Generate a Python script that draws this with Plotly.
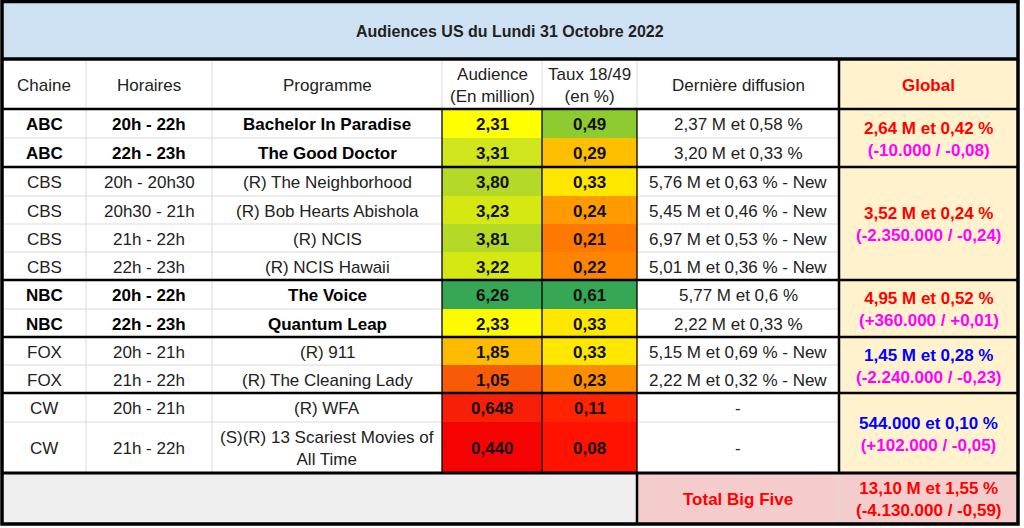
import plotly.graph_objects as go

# ---------------- data ----------------
title = "Audiences US du Lundi 31 Octobre 2022"
headers = ["Chaine", "Horaires", "Programme", "Audience<br>(En million)",
           "Taux 18/49<br>(en %)", "Dernière diffusion", "Global"]
channels = ["ABC", "ABC", "CBS", "CBS", "CBS", "CBS", "NBC", "NBC", "FOX", "FOX", "CW", "CW"]
horaires = ["20h - 22h", "22h - 23h", "20h - 20h30", "20h30 - 21h", "21h - 22h", "22h - 23h",
            "20h - 22h", "22h - 23h", "20h - 21h", "21h - 22h", "20h - 21h", "21h - 22h"]
programmes = ["Bachelor In Paradise", "The Good Doctor", "(R) The Neighborhood",
              "(R) Bob Hearts Abishola", "(R) NCIS", "(R) NCIS Hawaii", "The Voice",
              "Quantum Leap", "(R) 911", "(R) The Cleaning Lady", "(R) WFA",
              "(S)(R) 13 Scariest Movies of<br>All Time"]
audience = ["2,31", "3,31", "3,80", "3,23", "3,81", "3,22", "6,26", "2,33", "1,85", "1,05", "0,648", "0,440"]
taux = ["0,49", "0,29", "0,33", "0,24", "0,21", "0,22", "0,61", "0,33", "0,33", "0,23", "0,11", "0,08"]
derniere = ["2,37 M et 0,58 %", "3,20 M et 0,33 %", "5,76 M et 0,63 % - New",
            "5,45 M et 0,46 % - New", "6,97 M et 0,53 % - New", "5,01 M et 0,36 % - New",
            "5,77 M et 0,6 %", "2,22 M et 0,33 %", "5,15 M et 0,69 % - New",
            "2,22 M et 0,32 % - New", "-", "-"]
bold_rows = [True, True, False, False, False, False, True, True, False, False, False, False]
global_main = ["2,64 M et 0,42 %", "3,52 M et 0,24 %", "4,95 M et 0,52 %",
               "1,45 M et 0,28 %", "544.000 et 0,10 %"]
global_delta = ["(-10.000 / -0,08)", "(-2.350.000 / -0,24)", "(+360.000 / +0,01)",
                "(-2.240.000 / -0,23)", "(+102.000 / -0,05)"]
total_label = "Total Big Five"
total_main = "13,10 M et 1,55 %"
total_delta = "(-4.130.000 / -0,59)"

# ---------------- styles ----------------
aud_colors = ["#FFFF00", "#D0E51C", "#B4D927", "#D5E812", "#B4D927", "#D5E812",
              "#36A855", "#FEFB00", "#FDBB00", "#F95A08", "#F81F08", "#F70202"]
taux_colors = ["#8ECB2F", "#FDBF00", "#FFE700", "#FF9B00", "#FF7800", "#FF8400",
               "#36A855", "#FFE700", "#FFE700", "#FF8D00", "#FF2300", "#FF1200"]
global_colors = ["#FF0000", "#FF0000", "#FF0000", "#0000FF", "#0000FF"]
delta_color = "#FF00FF"

W, H = 1024, 528
col_x = [2, 86, 212, 442, 542, 637, 839, 1018]
y_top = 1.5
y_title_bot = 59
y_header_bot = 109
row_h = [29, 29, 29, 28, 28, 28, 29, 28, 28, 28, 29, 51]
total_h = 51
FONT = "Liberation Sans, Arial, sans-serif"
FS = 17
LIGHT = "#DADADA"

row_top = [y_header_bot]
for h in row_h:
    row_top.append(row_top[-1] + h)
y_total_bot = row_top[-1] + total_h

# groups of consecutive channels
groups = []
start = 0
for i in range(1, len(channels) + 1):
    if i == len(channels) or channels[i] != channels[start]:
        groups.append((start, i))
        start = i

shapes = []
ann = []


def rect(x0, x1, y0, y1, color):
    shapes.append(dict(type="rect", xref="x", yref="y", x0=x0, x1=x1, y0=y0, y1=y1,
                       fillcolor=color, line=dict(width=0)))


def line(x0, y0, x1, y1, color, w):
    shapes.append(dict(type="line", xref="x", yref="y", x0=x0, x1=x1, y0=y0, y1=y1,
                       line=dict(color=color, width=w)))


def text(x, y, s, bold=False, color="#222222", size=FS):
    if bold:
        s = "<b>" + s + "</b>"
    ann.append(dict(x=x, y=y, xref="x", yref="y", text=s, showarrow=False,
                    xanchor="center", yanchor="middle",
                    font=dict(family=FONT, size=size, color=color)))


# backgrounds
rect(col_x[0], col_x[-1], y_top, y_title_bot, "#CFE2F3")
rect(col_x[0], col_x[-1], y_title_bot, y_total_bot, "#FFFFFF")
rect(col_x[6], col_x[7], y_title_bot, row_top[-1], "#FFF2CC")
for i in range(len(channels)):
    rect(col_x[3], col_x[4], row_top[i], row_top[i + 1], aud_colors[i])
    rect(col_x[4], col_x[5], row_top[i], row_top[i + 1], taux_colors[i])
rect(col_x[0], col_x[5], row_top[-1], y_total_bot, "#EFEFEF")
rect(col_x[5], col_x[7], row_top[-1], y_total_bot, "#F4CCCC")

# light grid lines
for k in range(1, 6):
    line(col_x[k], y_title_bot, col_x[k], y_header_bot, LIGHT, 1)
for k in (1, 2):
    line(col_x[k], y_header_bot, col_x[k], row_top[-1], LIGHT, 1)
line(col_x[6], row_top[-1], col_x[6], y_total_bot, LIGHT, 1)
for (a, b) in groups:
    for i in range(a + 1, b):
        line(col_x[0], row_top[i], col_x[3], row_top[i], LIGHT, 1)
        line(col_x[5], row_top[i], col_x[6], row_top[i], LIGHT, 1)

# dark lines
for k in (3, 4, 5):
    line(col_x[k], y_header_bot, col_x[k], row_top[-1], "#000000", 1.3)
line(col_x[5], row_top[-1], col_x[5], y_total_bot, "#000000", 2.5)
line(col_x[6], y_title_bot, col_x[6], row_top[-1], "#000000", 2.5)
for (a, b) in groups:
    line(col_x[0], row_top[a], col_x[-1], row_top[a], "#000000", 2.5)
line(col_x[0], row_top[-1], col_x[-1], row_top[-1], "#000000", 3)
line(col_x[0], y_title_bot, col_x[-1], y_title_bot, "#000000", 3.5)
# outer border
shapes.append(dict(type="rect", xref="x", yref="y", x0=col_x[0], x1=col_x[-1],
                   y0=y_top, y1=y_total_bot, line=dict(color="#000000", width=3.5)))

# texts
cx = [(col_x[k] + col_x[k + 1]) / 2 for k in range(7)]
text((col_x[0] + col_x[-1]) / 2, (y_top + y_title_bot) / 2 + 1, title, bold=True,
     color="#222222", size=16)
hy = (y_title_bot + y_header_bot) / 2 + 1
for k, h in enumerate(headers[:6]):
    text(cx[k], hy, h, color="#222222")
text(cx[6], hy, headers[6], bold=True, color="#FF0000")

for i in range(len(channels)):
    yc = (row_top[i] + row_top[i + 1]) / 2 + 1
    b = bold_rows[i]
    col = "#000000" if b else "#222222"
    text(cx[0], yc, channels[i], bold=b, color=col)
    text(cx[1], yc, horaires[i], bold=b, color=col)
    text(cx[2], yc, programmes[i], bold=b, color=col)
    text(cx[3], yc, audience[i], bold=True, color="#111111")
    text(cx[4], yc, taux[i], bold=True, color="#111111")
    text(cx[5], yc, derniere[i], color="#222222")

for g, (a, b) in enumerate(groups):
    yc = (row_top[a] + row_top[b]) / 2 + 1
    s = ("<span style='color:%s'>%s</span><br><span style='color:%s'>%s</span>"
         % (global_colors[g], global_main[g], delta_color, global_delta[g]))
    text(cx[6], yc, s, bold=True)

ty = (row_top[-1] + y_total_bot) / 2 + 1
text(cx[5], ty, total_label, bold=True, color="#FF0000")
text(cx[6], ty, total_main + "<br>" + total_delta, bold=True, color="#FF0000")

fig = go.Figure()
fig.update_layout(
    width=W, height=H,
    margin=dict(l=0, r=0, t=0, b=0),
    paper_bgcolor="#FFFFFF", plot_bgcolor="#FFFFFF",
    xaxis=dict(range=[0, W], visible=False, fixedrange=True),
    yaxis=dict(range=[H, 0], visible=False, fixedrange=True),
    shapes=shapes, annotations=ann, showlegend=False,
)
fig.write_html("out.html", config={"displayModeBar": False},
               post_script="document.body.style.margin='0';document.body.style.overflow='hidden';")
